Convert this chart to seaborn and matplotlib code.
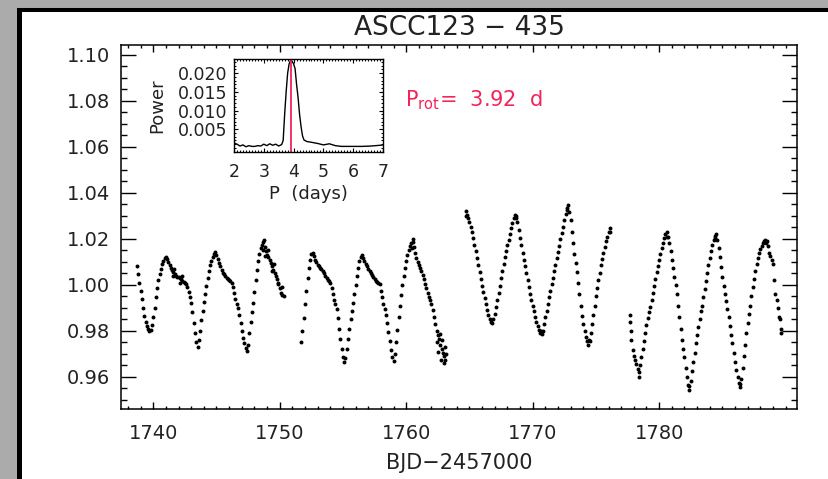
import numpy as np
import pandas as pd
import matplotlib
matplotlib.use("Agg")
import matplotlib.pyplot as plt
import seaborn as sns
from matplotlib.ticker import MultipleLocator, FormatStrFormatter, FixedLocator
from matplotlib.patches import Rectangle
from matplotlib.lines import Line2D

# ---------------- data ----------------
seg1_t = [1738.7, 1738.8, 1738.9, 1739.0, 1739.1, 1739.2, 1739.3, 1739.4, 1739.5, 1739.6,
          1739.7, 1739.8, 1739.9, 1740.0, 1740.1, 1740.2, 1740.3, 1740.4, 1740.5, 1740.6,
          1740.7, 1740.8, 1740.9, 1741.0, 1741.1, 1741.2, 1741.3, 1741.4, 1741.5, 1741.6,
          1741.7, 1741.8, 1741.9, 1742.0, 1742.1, 1742.2, 1742.3, 1742.4, 1742.5, 1742.6,
          1742.7, 1742.8, 1742.9, 1743.0, 1743.1, 1743.2, 1743.3, 1743.4, 1743.5, 1743.6,
          1743.7, 1743.8, 1743.9, 1744.0, 1744.1, 1744.2, 1744.3, 1744.4, 1744.5, 1744.6,
          1744.7, 1744.8, 1744.9, 1745.0, 1745.1, 1745.2, 1745.3, 1745.4, 1745.5, 1745.6,
          1745.7, 1745.8, 1745.9, 1746.0, 1746.1, 1746.2, 1746.3, 1746.4, 1746.5, 1746.6,
          1746.7, 1746.8, 1746.9, 1747.0, 1747.1, 1747.2, 1747.3, 1747.4, 1747.5, 1747.6,
          1747.7, 1747.8, 1747.9, 1748.0, 1748.1, 1748.2, 1748.3, 1748.4, 1748.5, 1748.6,
          1748.7, 1748.8, 1748.9, 1749.0, 1749.1, 1749.2, 1749.3, 1749.4, 1749.5, 1749.6,
          1749.7, 1749.8, 1749.9, 1750.0, 1750.1, 1750.2, 1750.3,
          1741.55, 1741.65, 1742.25, 1742.15, 1748.65, 1748.75, 1748.85, 1749.05, 1749.35,
          1749.55, 1749.85, 1750.15]
seg1_f = [1.0080, 1.0045, 1.0010, 0.9975, 0.9940, 0.9900, 0.9865, 0.9840, 0.9820, 0.9810,
          0.9800, 0.9805, 0.9825, 0.9860, 0.9900, 0.9945, 0.9985, 1.0020, 1.0045, 1.0070,
          1.0090, 1.0105, 1.0115, 1.0120, 1.0112, 1.0098, 1.0085, 1.0075, 1.0065, 1.0055,
          1.0045, 1.0040, 1.0035, 1.0032, 1.0030, 1.0025, 1.0018, 1.0012, 1.0008, 1.0005,
          0.9990, 0.9968, 0.9945, 0.9920, 0.9880, 0.9835, 0.9790, 0.9750, 0.9730, 0.9760,
          0.9800, 0.9845, 0.9885, 0.9925, 0.9960, 0.9995, 1.0030, 1.0060, 1.0085, 1.0105,
          1.0122, 1.0135, 1.0142, 1.0130, 1.0112, 1.0095, 1.0080, 1.0065, 1.0052, 1.0045,
          1.0038, 1.0030, 1.0025, 1.0020, 1.0015, 1.0008, 0.9990, 0.9965, 0.9940, 0.9915,
          0.9900, 0.9870, 0.9835, 0.9800, 0.9770, 0.9745, 0.9725, 0.9712, 0.9740, 0.9790,
          0.9840, 0.9880, 0.9920, 0.9970, 1.0020, 1.0065, 1.0105, 1.0135, 1.0160, 1.0175,
          1.0185, 1.0165, 1.0145, 1.0130, 1.0120, 1.0108, 1.0095, 1.0080, 1.0065, 1.0052,
          1.0040, 1.0025, 1.0005, 0.9985, 0.9965, 0.9955, 0.9950,
          1.0040, 1.0068, 1.0040, 1.0010, 1.0150, 1.0195, 1.0125, 1.0150, 1.0060,
          1.0090, 1.0010, 0.9990]

seg2_t = [1751.7, 1751.8, 1751.9, 1752.0, 1752.1, 1752.2, 1752.3, 1752.4, 1752.5, 1752.6,
          1752.7, 1752.8, 1752.9, 1753.0, 1753.1, 1753.2, 1753.3, 1753.4, 1753.5, 1753.6,
          1753.7, 1753.8, 1753.9, 1754.0, 1754.1, 1754.2, 1754.3, 1754.4, 1754.5, 1754.6,
          1754.7, 1754.8, 1754.9, 1755.0, 1755.1, 1755.2, 1755.3, 1755.4, 1755.5, 1755.6,
          1755.7, 1755.8, 1755.9, 1756.0, 1756.1, 1756.2, 1756.3, 1756.4, 1756.5, 1756.6,
          1756.7, 1756.8, 1756.9, 1757.0, 1757.1, 1757.2, 1757.3, 1757.4, 1757.5, 1757.6,
          1757.7, 1757.8, 1757.9, 1758.0, 1758.1, 1758.2, 1758.3, 1758.4, 1758.5, 1758.6,
          1758.7, 1758.8, 1758.9, 1759.0, 1759.1, 1759.2, 1759.3, 1759.4, 1759.5, 1759.6,
          1759.7, 1759.8, 1759.9, 1760.0, 1760.1, 1760.2, 1760.3, 1760.4, 1760.5, 1760.6,
          1760.7, 1760.8, 1760.9, 1761.0, 1761.1, 1761.2, 1761.3, 1761.4, 1761.5, 1761.6,
          1761.7, 1761.8, 1761.9, 1762.0, 1762.1, 1762.2, 1762.3, 1762.4, 1762.5, 1762.6,
          1762.7, 1762.8, 1762.9, 1763.0, 1763.1,
          1762.55, 1762.65, 1762.75, 1762.85, 1762.95, 1763.05, 1762.45, 1763.15, 1760.45,
          1760.55]
seg2_f = [0.9750, 0.9800, 0.9855, 0.9915, 0.9975, 1.0030, 1.0075, 1.0110, 1.0132, 1.0140,
          1.0125, 1.0110, 1.0098, 1.0088, 1.0080, 1.0075, 1.0068, 1.0062, 1.0050, 1.0040,
          1.0030, 1.0022, 1.0015, 1.0008, 0.9985, 0.9960, 0.9935, 0.9915, 0.9895, 0.9855,
          0.9810, 0.9765, 0.9720, 0.9685, 0.9665, 0.9680, 0.9720, 0.9765, 0.9810, 0.9850,
          0.9885, 0.9920, 0.9960, 1.0000, 1.0040, 1.0075, 1.0102, 1.0120, 1.0130, 1.0118,
          1.0105, 1.0092, 1.0080, 1.0070, 1.0062, 1.0052, 1.0042, 1.0034, 1.0025, 1.0018,
          1.0012, 1.0008, 1.0004, 0.9975, 0.9945, 0.9915, 0.9895, 0.9870, 0.9835, 0.9795,
          0.9755, 0.9715, 0.9685, 0.9670, 0.9700, 0.9750, 0.9805, 0.9860, 0.9910, 0.9955,
          1.0000, 1.0040, 1.0075, 1.0105, 1.0130, 1.0150, 1.0168, 1.0182, 1.0188, 1.0165,
          1.0140, 1.0118, 1.0100, 1.0085, 1.0072, 1.0060, 1.0042, 1.0025, 1.0005, 0.9985,
          0.9965, 0.9948, 0.9932, 0.9918, 0.9890, 0.9860, 0.9830, 0.9800, 0.9780, 0.9765,
          0.9740, 0.9720, 0.9705, 0.9690, 0.9675,
          0.9710, 0.9785, 0.9675, 0.9760, 0.9660, 0.9730, 0.9750, 0.9700, 1.0160,
          1.0200]

seg3_t = [1764.7, 1764.8, 1764.9, 1765.0, 1765.1, 1765.2, 1765.3, 1765.4, 1765.5, 1765.6,
          1765.7, 1765.8, 1765.9, 1766.0, 1766.1, 1766.2, 1766.3, 1766.4, 1766.5, 1766.6,
          1766.7, 1766.8, 1766.9, 1767.0, 1767.1, 1767.2, 1767.3, 1767.4, 1767.5, 1767.6,
          1767.7, 1767.8, 1767.9, 1768.0, 1768.1, 1768.2, 1768.3, 1768.4, 1768.5, 1768.6,
          1768.7, 1768.8, 1768.9, 1769.0, 1769.1, 1769.2, 1769.3, 1769.4, 1769.5, 1769.6,
          1769.7, 1769.8, 1769.9, 1770.0, 1770.1, 1770.2, 1770.3, 1770.4, 1770.5, 1770.6,
          1770.7, 1770.8, 1770.9, 1771.0, 1771.1, 1771.2, 1771.3, 1771.4, 1771.5, 1771.6,
          1771.7, 1771.8, 1771.9, 1772.0, 1772.1, 1772.2, 1772.3, 1772.4, 1772.5, 1772.6,
          1772.7, 1772.8, 1772.9, 1773.0, 1773.1, 1773.2, 1773.3, 1773.4, 1773.5, 1773.6,
          1773.7, 1773.8, 1773.9, 1774.0, 1774.1, 1774.2, 1774.3, 1774.4, 1774.5, 1774.6,
          1774.7, 1774.8, 1774.9, 1775.0, 1775.1, 1775.2, 1775.3, 1775.4, 1775.5, 1775.6,
          1775.7, 1775.8, 1775.9, 1776.0, 1776.1,
          1764.75, 1768.65, 1772.75, 1774.45, 1776.12, 1770.65]
seg3_f = [1.0320, 1.0305, 1.0290, 1.0272, 1.0250, 1.0228, 1.0205, 1.0175, 1.0145, 1.0115,
          1.0085, 1.0055, 1.0025, 0.9995, 0.9968, 0.9942, 0.9915, 0.9890, 0.9868, 0.9850,
          0.9838, 0.9832, 0.9850, 0.9875, 0.9905, 0.9935, 0.9965, 0.9995, 1.0030, 1.0060,
          1.0090, 1.0120, 1.0148, 1.0172, 1.0196, 1.0220, 1.0245, 1.0268, 1.0290, 1.0305,
          1.0298, 1.0272, 1.0240, 1.0205, 1.0172, 1.0140, 1.0110, 1.0080, 1.0050, 1.0020,
          0.9990, 0.9960, 0.9935, 0.9910, 0.9885, 0.9860, 0.9840, 0.9820, 0.9802, 0.9790,
          0.9785, 0.9800, 0.9830, 0.9860, 0.9888, 0.9915, 0.9945, 0.9972, 1.0002, 1.0030,
          1.0060, 1.0088, 1.0115, 1.0142, 1.0170, 1.0198, 1.0225, 1.0252, 1.0280, 1.0308,
          1.0332, 1.0346, 1.0318, 1.0280, 1.0230, 1.0180, 1.0135, 1.0095, 1.0055, 1.0010,
          0.9960, 0.9910, 0.9865, 0.9830, 0.9800, 0.9775, 0.9755, 0.9740, 0.9755, 0.9790,
          0.9830, 0.9870, 0.9910, 0.9950, 0.9985, 1.0020, 1.0052, 1.0085, 1.0112, 1.0138,
          1.0165, 1.0190, 1.0210, 1.0230, 1.0248,
          1.0300, 1.0290, 1.0325, 0.9760, 1.0230, 0.9800]

seg4_t = [1777.7, 1777.72, 1777.75, 1777.8, 1777.9, 1778.0, 1778.1, 1778.2, 1778.3, 1778.4,
          1778.5, 1778.6, 1778.7, 1778.8, 1778.9, 1779.0, 1779.1, 1779.2, 1779.3, 1779.4,
          1779.5, 1779.6, 1779.7, 1779.8, 1779.9, 1780.0, 1780.1, 1780.2, 1780.3, 1780.4,
          1780.5, 1780.6, 1780.7, 1780.8, 1780.9, 1781.0, 1781.1, 1781.2, 1781.3, 1781.4,
          1781.5, 1781.6, 1781.7, 1781.8, 1781.9, 1782.0, 1782.1, 1782.2, 1782.3, 1782.4,
          1782.5, 1782.6, 1782.7, 1782.8, 1782.9, 1783.0, 1783.1, 1783.2, 1783.3, 1783.4,
          1783.5, 1783.6, 1783.7, 1783.8, 1783.9, 1784.0, 1784.1, 1784.2, 1784.3, 1784.4,
          1784.5, 1784.6, 1784.7, 1784.8, 1784.9, 1785.0, 1785.1, 1785.2, 1785.3, 1785.4,
          1785.5, 1785.6, 1785.7, 1785.8, 1785.9, 1786.0, 1786.1, 1786.2, 1786.3, 1786.4,
          1786.5, 1786.6, 1786.7, 1786.8, 1786.9, 1787.0, 1787.1, 1787.2, 1787.3, 1787.4,
          1787.5, 1787.6, 1787.7, 1787.8, 1787.9, 1788.0, 1788.1, 1788.2, 1788.3, 1788.4,
          1788.5, 1788.6, 1788.7, 1788.8, 1788.9, 1789.0, 1789.1, 1789.2, 1789.3, 1789.4,
          1789.5, 1789.6,
          1789.64, 1789.55, 1788.45, 1784.45, 1780.62, 1782.38, 1786.38, 1778.38]
seg4_f = [0.9870, 0.9840, 0.9800, 0.9760, 0.9715, 0.9690, 0.9675, 0.9657, 0.9635, 0.9622,
          0.9650, 0.9685, 0.9720, 0.9755, 0.9790, 0.9825, 0.9855, 0.9880, 0.9903, 0.9935,
          0.9965, 0.9995, 1.0025, 1.0055, 1.0082, 1.0107, 1.0132, 1.0158, 1.0182, 1.0205,
          1.0222, 1.0230, 1.0210, 1.0180, 1.0145, 1.0110, 1.0072, 1.0035, 1.0000, 0.9960,
          0.9910, 0.9860, 0.9810, 0.9760, 0.9720, 0.9686, 0.9640, 0.9600, 0.9565, 0.9541,
          0.9580, 0.9625, 0.9665, 0.9705, 0.9745, 0.9780, 0.9815, 0.9850, 0.9885, 0.9910,
          0.9945, 0.9980, 1.0015, 1.0050, 1.0085, 1.0115, 1.0145, 1.0172, 1.0195, 1.0212,
          1.0223, 1.0195, 1.0160, 1.0120, 1.0078, 1.0035, 0.9995, 0.9960, 0.9930, 0.9895,
          0.9860, 0.9820, 0.9780, 0.9745, 0.9705, 0.9665, 0.9630, 0.9600, 0.9575, 0.9556,
          0.9590, 0.9640, 0.9690, 0.9740, 0.9790, 0.9835, 0.9875, 0.9910, 0.9950, 0.9990,
          1.0025, 1.0060, 1.0090, 1.0115, 1.0138, 1.0155, 1.0170, 1.0182, 1.0192, 1.0197,
          1.0190, 1.0170, 1.0140, 1.0125, 1.0110, 1.0090, 1.0020, 0.9960, 0.9935, 0.9900,
          0.9860, 0.9810,
          0.9790, 0.9850, 1.0180, 1.0205, 1.0210, 0.9560, 0.9570, 0.9600]

period_days = [2.00, 2.10, 2.20, 2.30, 2.40, 2.50, 2.60, 2.70, 2.80, 2.90, 3.00, 3.10, 3.20,
               3.30, 3.40, 3.50, 3.60, 3.65, 3.70, 3.75, 3.80, 3.85, 3.90, 3.95, 4.00, 4.05,
               4.10, 4.15, 4.20, 4.25, 4.30, 4.35, 4.45, 4.60, 4.80, 5.00, 5.20, 5.40, 5.60,
               5.80, 6.00, 6.30, 6.60, 6.90, 7.00]
power = [0.0013, 0.0010, 0.0005, 0.0008, 0.0003, 0.0006, 0.0004, 0.0004, 0.0006, 0.0005,
         0.0010, 0.0006, 0.0011, 0.0007, 0.0010, 0.0005, 0.0009, 0.0020, 0.0090, 0.0150,
         0.0200, 0.0225, 0.0235, 0.0232, 0.0225, 0.0212, 0.0170, 0.0135, 0.0090, 0.0057,
         0.0032, 0.0021, 0.0017, 0.0015, 0.0012, 0.0008, 0.0011, 0.0006, 0.0004, 0.0004,
         0.0004, 0.0004, 0.0005, 0.0007, 0.0008]

p_rot = 3.92
title_text = "ASCC123 \u2212 435"
xlabel_text = "BJD\u22122457000"
main_yticks = [0.96, 0.98, 1.00, 1.02, 1.04, 1.06, 1.08, 1.10]
main_xticks = [1740, 1750, 1760, 1770, 1780]
inset_yticks = [0.005, 0.010, 0.015, 0.020]
inset_xticks = [2, 3, 4, 5, 6, 7]

# ---------------- figure ----------------
sns.set_theme(style="ticks")
plt.rcParams["font.family"] = ["DejaVu Sans"]
plt.rcParams["mathtext.fontset"] = "dejavusans"

lc = pd.DataFrame({
    "t": seg1_t + seg2_t + seg3_t + seg4_t,
    "flux": seg1_f + seg2_f + seg3_f + seg4_f,
})
pg = pd.DataFrame({"P": period_days, "power": power})

W, H = 829, 479
fig = plt.figure(figsize=(W / 100, H / 100), dpi=100)
fig.patch.set_facecolor("#ababab")
fig.add_artist(Rectangle((20 / W, 0), 1, 1 - 10 / H, transform=fig.transFigure,
                         facecolor="white", edgecolor="none", zorder=-5))
fig.add_artist(Line2D([19.5 / W, 19.5 / W], [0, 1 - 8 / H], transform=fig.transFigure,
                      color="black", lw=3.6, solid_capstyle="butt"))
fig.add_artist(Line2D([17 / W, 1], [1 - 10 / H, 1 - 10 / H], transform=fig.transFigure,
                      color="black", lw=2.9, solid_capstyle="butt"))

red = "#f3245a"
txt_col = "#222222"

ax = fig.add_axes([121 / W, 1 - 409 / H, 676 / W, 364 / H])
ax.set_facecolor("white")
sns.scatterplot(data=lc, x="t", y="flux", ax=ax, color="black", s=8,
                linewidth=0, legend=False)
ax.set_xlim(1737.45, 1790.9)
ax.set_ylim(0.9460, 1.1043)
ax.xaxis.set_major_locator(FixedLocator(main_xticks))
ax.xaxis.set_minor_locator(MultipleLocator(1))
ax.yaxis.set_major_locator(FixedLocator(main_yticks))
ax.yaxis.set_minor_locator(MultipleLocator(0.005))
ax.yaxis.set_major_formatter(FormatStrFormatter("%.2f"))
ax.xaxis.set_major_formatter(FormatStrFormatter("%d"))
for sp in ax.spines.values():
    sp.set_visible(True)
    sp.set_color("black")
    sp.set_linewidth(1.1)
ax.tick_params(which="both", direction="in", top=True, right=True, bottom=True,
               left=True, colors="black", labelcolor=txt_col)
ax.tick_params(axis="x", which="major", length=5, width=1.0, labelsize=14, pad=11)
ax.tick_params(axis="x", which="minor", length=2.4, width=1.0)
ax.tick_params(axis="y", which="major", length=10.5, width=1.0, labelsize=14, pad=8)
ax.tick_params(axis="y", which="minor", length=4.6, width=1.0)
ax.set_xlabel(xlabel_text, fontsize=15, color=txt_col, labelpad=7)
ax.set_ylabel("")
ax.set_title(title_text, fontsize=19, color=txt_col, pad=7)
ax.text(1759.9, 1.0776, r"P$_{\rm rot}$=  3.92  d", color=red, fontsize=15,
        va="baseline", ha="left")

# inset periodogram
axin = fig.add_axes([234 / W, 1 - 152 / H, 149 / W, 93 / H])
axin.set_facecolor("white")
sns.lineplot(data=pg, x="P", y="power", ax=axin, color="black", lw=1.0,
             legend=False)
axin.axvline(p_rot, color=red, lw=1.3)
axin.set_xlim(2, 7)
axin.set_ylim(-0.0011, 0.0238)
axin.xaxis.set_major_locator(FixedLocator(inset_xticks))
axin.xaxis.set_minor_locator(MultipleLocator(0.1))
axin.yaxis.set_major_locator(FixedLocator(inset_yticks))
axin.yaxis.set_minor_locator(MultipleLocator(0.001))
axin.yaxis.set_major_formatter(FormatStrFormatter("%.3f"))
axin.xaxis.set_major_formatter(FormatStrFormatter("%d"))
for sp in axin.spines.values():
    sp.set_visible(True)
    sp.set_color("black")
    sp.set_linewidth(1.0)
axin.tick_params(which="both", direction="in", top=True, right=True, bottom=True,
                 left=True, colors="black", labelcolor=txt_col)
axin.tick_params(which="major", length=3, width=0.8, labelsize=12.5, pad=5)
axin.tick_params(axis="x", which="major", pad=8)
axin.tick_params(which="minor", length=1.6, width=0.7)
axin.set_xlabel("P  (days)", fontsize=13, color=txt_col, labelpad=3)
axin.set_ylabel("Power", fontsize=13, color=txt_col, labelpad=8)

fig.savefig("out.png", dpi=100, facecolor=fig.get_facecolor())
